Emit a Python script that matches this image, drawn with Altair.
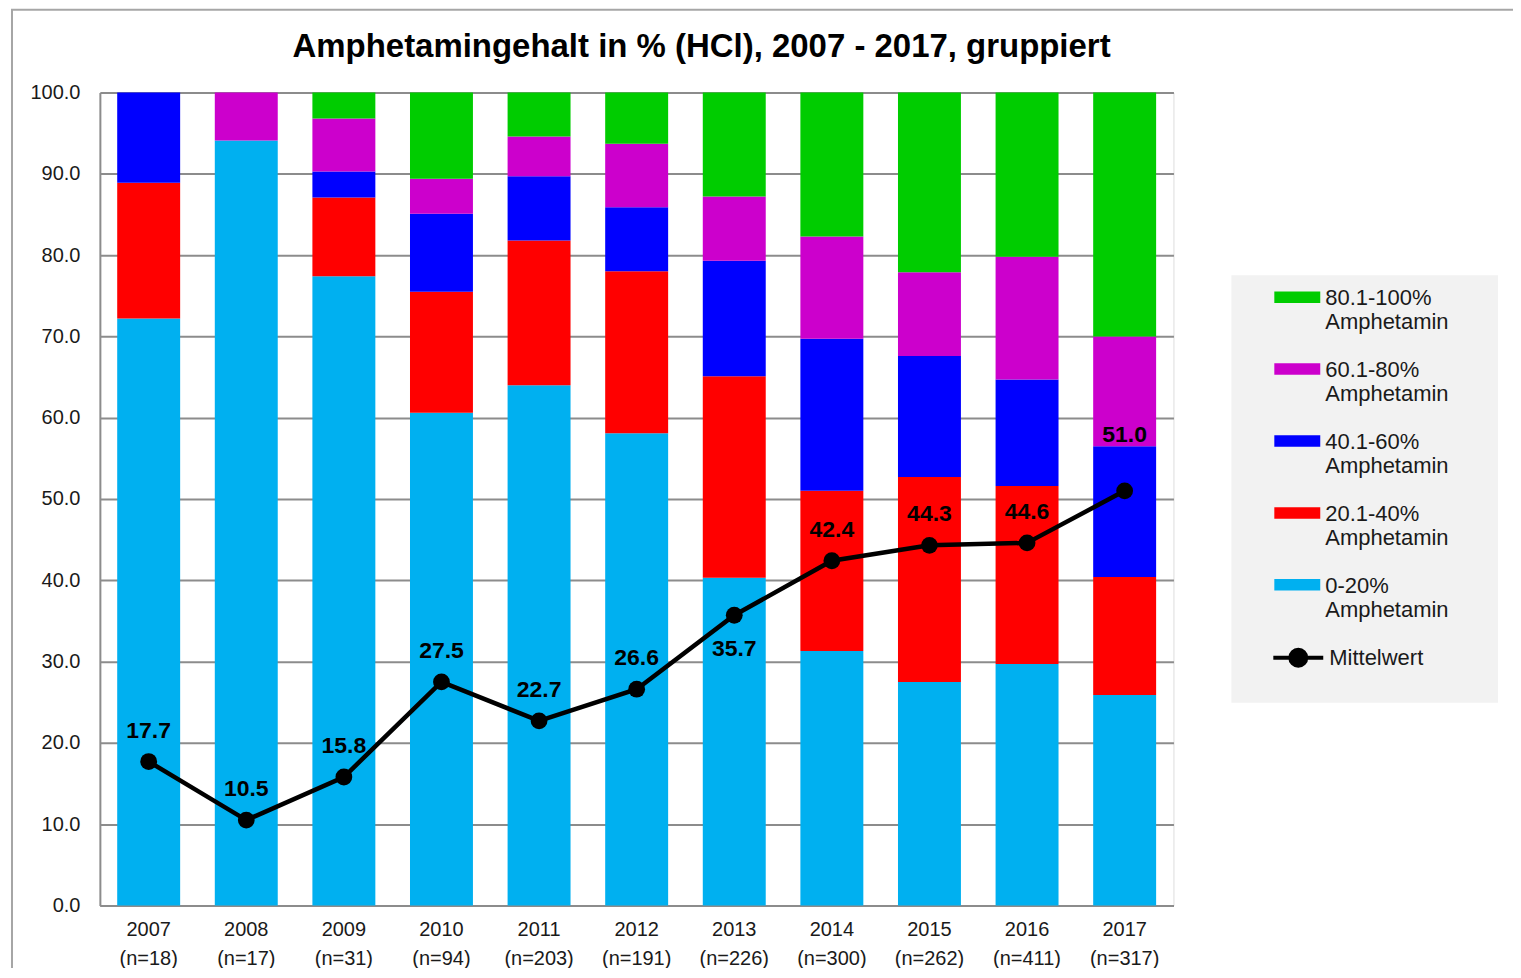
import altair as alt
import pandas as pd

# ---------------- data ----------------
years = ["2007", "2008", "2009", "2010", "2011", "2012", "2013", "2014", "2015", "2016", "2017"]
n_samples = [18, 17, 31, 94, 203, 191, 226, 300, 262, 411, 317]

categories = ["0-20% Amphetamin", "20.1-40% Amphetamin", "40.1-60% Amphetamin",
              "60.1-80% Amphetamin", "80.1-100% Amphetamin"]
colors = ["#00b0f0", "#ff0000", "#0000ff", "#cc00cc", "#00cc00"]

share_0_20 = [72.2, 94.1, 77.4, 60.6, 64.0, 58.1, 40.3, 31.3, 27.5, 29.7, 25.9]
share_20_40 = [16.7, 0.0, 9.7, 14.9, 17.8, 19.9, 24.8, 19.7, 25.2, 21.9, 14.5]
share_40_60 = [11.1, 0.0, 3.2, 9.6, 7.9, 7.9, 14.2, 18.7, 14.9, 13.1, 16.1]
share_60_80 = [0.0, 5.9, 6.5, 4.3, 4.9, 7.8, 7.9, 12.6, 10.3, 15.1, 13.5]
share_80_100 = [0.0, 0.0, 3.2, 10.6, 5.4, 6.3, 12.8, 17.7, 22.1, 20.2, 30.0]

means = [17.7, 10.5, 15.8, 27.5, 22.7, 26.6, 35.7, 42.4, 44.3, 44.6, 51.0]

# label placement (style): years whose value label sits below / higher
label_below = ["2013"]
label_high = ["2017"]

FONT = "Liberation Sans"
GRID = "#8c8c8c"
TXT = "#1a1a1a"

# ---------------- tables ----------------
x_labels = [f"{y}\n(n={n})" for y, n in zip(years, n_samples)]
shares = [share_0_20, share_20_40, share_40_60, share_60_80, share_80_100]

rows = []
for i, lab in enumerate(x_labels):
    for k, (cat, vals) in enumerate(zip(categories, shares)):
        rows.append({"year": lab, "cat": cat, "order": k, "value": vals[i]})
bars_df = pd.DataFrame(rows)

mean_df = pd.DataFrame({"year": x_labels, "yr": years, "mean": means,
                        "series": ["Mittelwert"] * len(years)})

x_enc = alt.X(
    "year:N", sort=x_labels, title=None,
    scale=alt.Scale(paddingInner=0.355, paddingOuter=0.1775),
    axis=alt.Axis(labelExpr="split(datum.label, '\\n')", labelAngle=0, ticks=False,
                  labelFont=FONT, labelFontSize=20, labelColor=TXT, labelLineHeight=29,
                  labelPadding=14, domainColor=GRID, domainWidth=2, grid=False),
)
y_scale = alt.Scale(domain=[0, 100], nice=False)

# ---------------- decorative frame and legend background ----------------
frame = alt.Chart(alt.Data(values=[{}])).mark_rect(
    fillOpacity=0, stroke="#a6a6a6", strokeWidth=2
).encode(x=alt.value(-88), x2=alt.value(1440), y=alt.value(-83), y2=alt.value(880))

legend_bg = alt.Chart(alt.Data(values=[{}])).mark_rect(color="#f2f2f2").encode(
    x=alt.value(1133), x2=alt.value(1400), y=alt.value(183), y2=alt.value(611)
)

# ---------------- bars ----------------
bars = alt.Chart(bars_df).mark_bar().encode(
    x=x_enc,
    y=alt.Y("value:Q", stack="zero", scale=y_scale, title=None,
            axis=alt.Axis(values=list(range(0, 101, 10)), format=".1f", ticks=False,
                          labelFont=FONT, labelFontSize=20, labelColor=TXT, labelPadding=20,
                          domainColor=GRID, domainWidth=2, gridColor=GRID, gridWidth=2)),
    color=alt.Color(
        "cat:N",
        scale=alt.Scale(domain=categories[::-1], range=colors[::-1]),
        legend=alt.Legend(
            title=None, orient="none", legendX=1176, legendY=190, padding=0,
            symbolType="M-1,-0.6H1V-0.1H-1Z", symbolSize=2116, symbolStrokeWidth=0,
            symbolOpacity=1, labelExpr="split(datum.label, ' ')", labelFont=FONT,
            labelFontSize=22, labelColor=TXT, labelOffset=5, labelBaseline="alphabetic",
            labelLimit=400, rowPadding=21,
        ),
    ),
    order=alt.Order("order:Q", sort="ascending"),
)

# ---------------- mean line ----------------
line = alt.Chart(mean_df).mark_line(strokeWidth=4.5).encode(
    x=x_enc,
    y=alt.Y("mean:Q", scale=y_scale, title=None),
    stroke=alt.Stroke(
        "series:N",
        scale=alt.Scale(domain=["Mittelwert"], range=["black"]),
        legend=alt.Legend(
            title=None, orient="none", legendX=1173, legendY=539, padding=0,
            symbolType="M-1,0H1M-0.32,0A0.32,0.32,0,1,1,0.32,0A0.32,0.32,0,1,1,-0.32,0Z",
            symbolSize=2500, symbolStrokeWidth=4, symbolFillColor="black",
            symbolStrokeColor="black", symbolOpacity=1, labelFont=FONT, labelFontSize=22,
            labelColor=TXT, labelOffset=4, labelLimit=400,
        ),
    ),
)

points = alt.Chart(mean_df).mark_circle(size=283, color="black", opacity=1).encode(
    x=x_enc, y=alt.Y("mean:Q", scale=y_scale, title=None)
)

def value_labels(flt, dy):
    return alt.Chart(mean_df).transform_filter(flt).mark_text(
        font=FONT, fontSize=23, fontWeight="bold", color="black",
        baseline="alphabetic", dy=dy,
    ).encode(
        x=x_enc, y=alt.Y("mean:Q", scale=y_scale, title=None),
        text=alt.Text("mean:Q", format=".1f"),
    )

special = label_below + label_high
lab_normal = value_labels(~alt.FieldOneOfPredicate(field="yr", oneOf=special), -24)
lab_below = value_labels(alt.FieldOneOfPredicate(field="yr", oneOf=label_below), 41)
lab_high = value_labels(alt.FieldOneOfPredicate(field="yr", oneOf=label_high), -49)

chart = alt.layer(
    frame, legend_bg, bars, line, points, lab_normal, lab_below, lab_high
).properties(
    width=1075,
    height=814,
    padding={"left": 92, "top": 84, "right": 340, "bottom": 62},
    autosize=alt.AutoSizeParams(type="none"),
    title=alt.TitleParams(
        "Amphetamingehalt in % (HCl), 2007 - 2017, gruppiert",
        font=FONT, fontSize=33, fontWeight="bold", color="black",
        anchor="middle", frame="group", offset=28, dx=65, dy=83,
    ),
).configure_view(strokeWidth=0).configure(font=FONT)

chart.save("out.html", embed_options={"renderer": "svg", "actions": False})
